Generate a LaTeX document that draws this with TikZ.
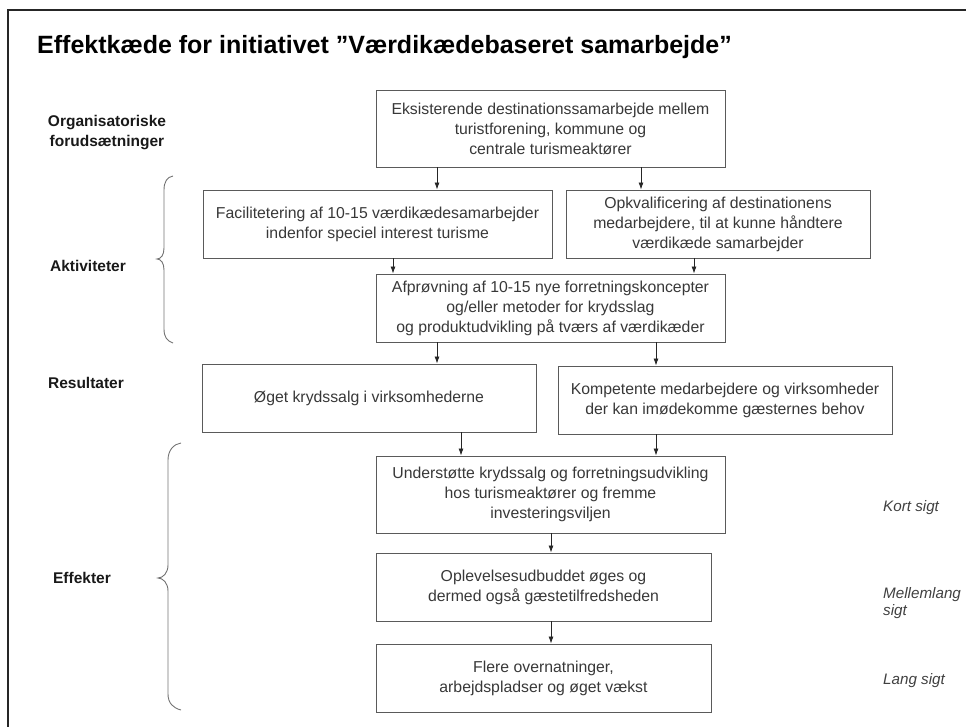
\documentclass[tikz,border=0pt]{standalone}
\usepackage{fontspec}
\setmainfont{Liberation Sans}
\usetikzlibrary{arrows.meta}
\definecolor{boxline}{HTML}{5A5A5A}
\definecolor{boxtext}{HTML}{383838}
\tikzset{
  box/.style={draw=boxline, line width=0.9pt, rectangle, align=center, inner sep=0pt,
    text=boxtext, font=\fontsize{15.8}{20}\selectfont},
  arr/.style={draw=black!85, line width=0.8pt, -{Latex[length=7pt,width=5pt]}},
  lab/.style={font=\bfseries\fontsize{15.5}{20}\selectfont, align=center, text=black!90},
  rlab/.style={font=\itshape\fontsize{15.2}{17}\selectfont, align=left, anchor=west, inner sep=0pt, text=black!75},
  brace/.style={draw=black!55, line width=0.9pt},
}
\begin{document}
\begin{tikzpicture}[x=1pt,y=-1pt]
\useasboundingbox (0,0) rectangle (966,727);
% frame
\draw[line width=2pt, black!85] (966,10) -- (8,10) -- (8,727);
% title
\node[anchor=west, font=\bfseries\fontsize{25}{30}\selectfont, inner sep=0pt] (title) at (37,47) {Effektkæde for initiativet ”Værdikædebaseret samarbejde”};
% boxes
\node[box, minimum width=349, minimum height=77] (b1) at (550.5,128.5) {Eksisterende destinationssamarbejde mellem\\turistforening, kommune og\\centrale turismeaktører};
\node[box, minimum width=349, minimum height=68] (b2) at (377.5,224) {Facilitetering af 10-15 værdikædesamarbejder\\indenfor speciel interest turisme};
\node[box, minimum width=304, minimum height=68] (b3) at (718,224) {Opkvalificering af destinationens\\medarbejdere, til at kunne håndtere\\værdikæde samarbejder};
\node[box, minimum width=349, minimum height=68] (b4) at (550.5,308) {Afprøvning af 10-15 nye forretningskoncepter\\og/eller metoder for krydsslag\\og produktudvikling på tværs af værdikæder};
\node[box, minimum width=334, minimum height=68] (b5) at (369,398) {Øget krydssalg i virksomhederne};
\node[box, minimum width=334, minimum height=68] (b6) at (725,400) {Kompetente medarbejdere og virksomheder\\der kan imødekomme gæsternes behov};
\node[box, minimum width=349, minimum height=77] (b7) at (550.5,494.5) {Understøtte krydssalg og forretningsudvikling\\hos turismeaktører og fremme\\investeringsviljen};
\node[box, minimum width=335, minimum height=68] (b8) at (543.5,587) {Oplevelsesudbuddet øges og\\dermed også gæstetilfredsheden};
\node[box, minimum width=335, minimum height=68] (b9) at (543.5,678) {Flere overnatninger,\\arbejdspladser og øget vækst};
% arrows
\draw[arr] ([xshift=-113.5]b1.south) -- ([xshift=59.5]b2.north);
\draw[arr] ([xshift=90.5]b1.south) -- ([xshift=-77]b3.north);
\draw[arr] ([xshift=15.5]b2.south) -- ([xshift=-157.5]b4.north);
\draw[arr] ([xshift=-24]b3.south) -- ([xshift=143.5]b4.north);
\draw[arr] ([xshift=-113.5]b4.south) -- ([xshift=68]b5.north);
\draw[arr] ([xshift=105.5]b4.south) -- ([xshift=-69]b6.north);
\draw[arr] ([xshift=92]b5.south) -- ([xshift=-89.5]b7.north);
\draw[arr] ([xshift=-69]b6.south) -- ([xshift=105.5]b7.north);
\draw[arr] ([xshift=0.5]b7.south) -- ([xshift=7.5]b8.north);
\draw[arr] ([xshift=7.5]b8.south) -- ([xshift=7.5]b9.north);
% left labels
\node[lab] (lorg) at (107,133) {Organisatoriske\\forudsætninger};
\node[lab] (lakt) at (88,266) {Aktiviteter};
\node[lab] (lres) at (86,383) {Resultater};
\node[lab] (leff) at (82,578) {Effekter};
% right labels
\node[rlab] (rkort) at (883,508) {Kort sigt};
\node[rlab] (rmel) at (883,603) {Mellemlang\\sigt};
\node[rlab] (rlang) at (883,681) {Lang sigt};
% braces
\draw[brace] (173,176) .. controls (167,177) and (164,182) .. (164,190) -- (164,248)
  .. controls (164,255) and (161,259) .. (157,259)
  .. controls (161,259) and (164,263) .. (164,270) -- (164,329)
  .. controls (164,337) and (167,341) .. (173,343);
\draw[brace] (181,443) .. controls (174,444) and (168,450) .. (168,460) -- (168,565)
  .. controls (168,573) and (163,578) .. (158,578)
  .. controls (163,578) and (168,583) .. (168,591) -- (168,694)
  .. controls (168,703) and (173,708) .. (181,710);
\end{tikzpicture}
\end{document}
